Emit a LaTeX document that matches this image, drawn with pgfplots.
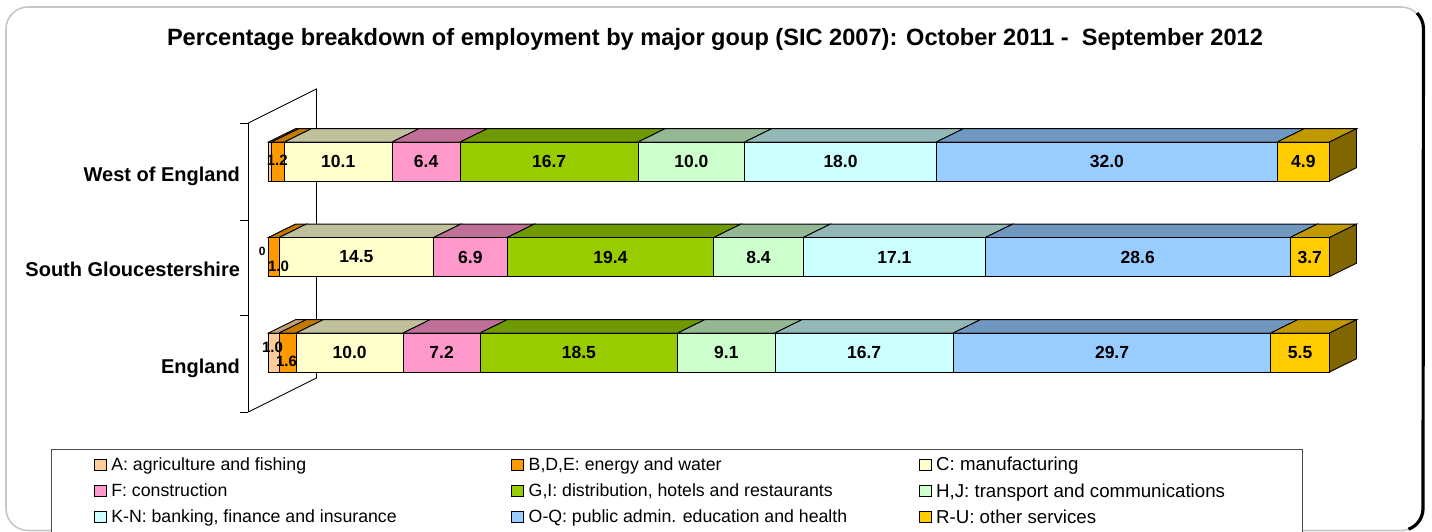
\documentclass[border=0pt]{standalone}
\usepackage{pgfplots}
\usepackage{pgfplotstable}
\pgfplotsset{compat=1.18}
\usepackage{fontspec}
\setmainfont{Liberation Sans}
\definecolor{cA}{HTML}{FFCC99}\definecolor{tA}{HTML}{C4A078}
\definecolor{cB}{HTML}{FF9900}\definecolor{tB}{HTML}{C47A00}
\definecolor{cC}{HTML}{FFFFCC}\definecolor{tC}{HTML}{C0C09C}
\definecolor{cF}{HTML}{FF99CC}\definecolor{tF}{HTML}{C07098}
\definecolor{cG}{HTML}{99CC00}\definecolor{tG}{HTML}{6F9900}
\definecolor{cH}{HTML}{CCFFCC}\definecolor{tH}{HTML}{94B794}
\definecolor{cK}{HTML}{CCFFFF}\definecolor{tK}{HTML}{94B7B7}
\definecolor{cO}{HTML}{99CCFF}\definecolor{tO}{HTML}{6F97C0}
\definecolor{cR}{HTML}{FFCC00}\definecolor{tR}{HTML}{C09900}
\definecolor{sR}{HTML}{806600}
% each row: centre of the bar (y), sum of the printed values (t), printed values
\pgfplotstableread{
y t A B C F G H K O R
59.5 99.3 1.0 1.6 10.0 7.2 18.5 9.1 16.7 29.7 5.5
155 99.6 0.0 1.0 14.5 6.9 19.4 8.4 17.1 28.6 3.7
250.5 99.6 0.3 1.2 10.1 6.4 16.7 10.0 18.0 32.0 4.9
}\datatable
\newcommand\Face[3]{%
  \pgfplotstablegetelem{#1}{#2}\of\datatable\let\Cv\pgfplotsretval
  \pgfplotstablegetelem{#1}{t}\of\datatable\let\Ct\pgfplotsretval
  \pgfmathsetmacro\nxt{\cum+\Cv*100/\Ct}
  \pgfmathsetmacro\pa{\cum+2.545}
  \pgfmathsetmacro\pb{\nxt+2.545}
  \addplot[draw=black,fill=#3,line width=0.9pt] coordinates {(\cum,\fY)(\nxt,\fY)(\pb,\fYt)(\pa,\fYt)} --cycle;
  \xdef\cum{\nxt}%
}
\newcommand\Faces[1]{%
  \pgfplotstablegetelem{#1}{y}\of\datatable\let\Cy\pgfplotsretval
  \pgfmathsetmacro\fY{\Cy+19.5}
  \pgfmathsetmacro\fYt{\Cy+32.8}
  \pgfmathsetmacro\fYb{\Cy-19.5}
  \pgfmathsetmacro\fYbt{\Cy-6.2}
  \gdef\cum{0}%
  \Face{#1}{A}{tA}\Face{#1}{B}{tB}\Face{#1}{C}{tC}\Face{#1}{F}{tF}\Face{#1}{G}{tG}%
  \Face{#1}{H}{tH}\Face{#1}{K}{tK}\Face{#1}{O}{tO}\Face{#1}{R}{tR}%
  \addplot[draw=black,fill=sR,line width=0.9pt] coordinates {(100,\fY)(102.545,\fYt)(102.545,\fYbt)(100,\fYb)} --cycle;
}
\newcommand\Seg[1]{%
  \addplot+[draw=black,line width=0.9pt,fill=c#1] table[x expr=\thisrow{#1}*100/\thisrow{t},y=y] {\datatable};
}
% value labels at the middle of each segment: #1 = sum of the segments before it
\newcommand\Lab[2]{%
  \addplot[only marks,mark=none,point meta=explicit,
    nodes near coords={\pgfmathprintnumber[fixed,fixed zerofill,precision=1]{\pgfplotspointmeta}},
    every node near coord/.append style={font=\fontsize{17.5}{19}\selectfont\bfseries,text=black,anchor=center}]
    table[x expr=(#1+\thisrow{#2}/2)*100/\thisrow{t},y=y,meta=#2] {\datatable};
}
\newcommand\lbl[2]{\makebox[#1pt][l]{\hspace{2.5pt}#2}}
\newcommand\lblc[2]{\makebox[#1pt][l]{\hspace{2.5pt}\fontsize{18.7}{19}\selectfont #2}}
\begin{document}
\begin{tikzpicture}[x=1pt,y=1pt]
\useasboundingbox (0,0) rectangle (1432,532);
% frame
\draw[black!22,line width=1.6pt,rounded corners=22pt] (6,1.5) rectangle (1423,525);
\draw[black,line width=3.2pt] (1417,519) arc[start angle=45,end angle=0,radius=22] -- (1423,23.5) arc[start angle=0,end angle=-70,radius=22];
\node[font=\fontsize{23.6}{28}\selectfont\bfseries] at (715,492.5) {Percentage breakdown of employment by major goup (SIC 2007): October 2011 -\ \ September 2012};
\begin{axis}[
  at={(234.2,120)},anchor=south west,scale only axis,width=1108pt,height=289pt,
  xmin=-1.885,xmax=102.545,ymin=0,ymax=289,clip=false,
  axis x line=none,axis y line*=left,
  axis line style={-,black,line width=0.9pt},
  ytick={44,143,236},
  yticklabels={England,South Gloucestershire,West of England},
  minor ytick={0,97,192,289},
  major tick length=0pt,minor tick length=8pt,tick align=outside,
  minor tick style={black,line width=0.9pt},
  yticklabel style={font=\fontsize{20}{24}\selectfont\bfseries,xshift=-5pt},
]
\addplot[black,line width=0.9pt,forget plot] coordinates {(-1.885,289)(4.524,323)(4.524,34)(-1.885,0)};
\Faces{0}\Faces{1}\Faces{2}
\end{axis}
\begin{axis}[
  at={(234.2,120)},anchor=south west,scale only axis,width=1108pt,height=289pt,
  xmin=-1.885,xmax=102.545,ymin=0,ymax=289,clip=false,hide axis,
  xbar stacked,bar width=39pt,
  legend columns=3,
  legend image code/.code={\draw[#1,line width=0.9pt] (0pt,-5.5pt) rectangle (12pt,5.5pt);},
  legend style={at={(-0.1778,-0.128)},anchor=north west,draw=black!70,line width=0.9pt,
    font=\fontsize{17.7}{19}\selectfont,cells={anchor=west},inner xsep=42pt,inner ysep=6pt,
    /tikz/every even column/.append style={column sep=2pt},row sep=7pt},
]
\Seg{A}\Seg{B}\Seg{C}\Seg{F}\Seg{G}\Seg{H}\Seg{K}\Seg{O}\Seg{R}
\legend{\lbl{398.5}{A: agriculture and fishing},\lbl{388.5}{B,D,E: energy and water},\lblc{325}{C: manufacturing},
  \lbl{398.5}{F: construction},\lbl{388.5}{G,I: distribution, hotels and restaurants},\lblc{325}{H,J: transport and communications},
  \lbl{398.5}{K-N: banking, finance and insurance},\lbl{388.5}{O-Q: public admin. education and health},\lblc{325}{R-U: other services}}
\end{axis}
\begin{axis}[
  at={(234.2,120)},anchor=south west,scale only axis,width=1108pt,height=289pt,
  xmin=-1.885,xmax=102.545,ymin=0,ymax=289,clip=false,hide axis,
  /pgf/number format/assume math mode=true,
]
\Lab{\thisrow{A}+\thisrow{B}}{C}
\Lab{\thisrow{A}+\thisrow{B}+\thisrow{C}}{F}
\Lab{\thisrow{A}+\thisrow{B}+\thisrow{C}+\thisrow{F}}{G}
\Lab{\thisrow{A}+\thisrow{B}+\thisrow{C}+\thisrow{F}+\thisrow{G}}{H}
\Lab{\thisrow{A}+\thisrow{B}+\thisrow{C}+\thisrow{F}+\thisrow{G}+\thisrow{H}}{K}
\Lab{\thisrow{A}+\thisrow{B}+\thisrow{C}+\thisrow{F}+\thisrow{G}+\thisrow{H}+\thisrow{K}}{O}
\Lab{\thisrow{t}-\thisrow{R}}{R}
\node[font=\fontsize{15}{17}\selectfont\bfseries] at (axis cs:0.82,252) {1.2};
\node[font=\fontsize{12}{14}\selectfont\bfseries] at (axis cs:-0.59,161) {0};
\node[font=\fontsize{15}{17}\selectfont\bfseries] at (axis cs:0.94,145.3) {1.0};
\node[font=\fontsize{15}{17}\selectfont\bfseries] at (axis cs:0.38,64.3) {1.0};
\node[font=\fontsize{15}{17}\selectfont\bfseries] at (axis cs:1.70,51) {1.6};
\end{axis}
\end{tikzpicture}
\end{document}
